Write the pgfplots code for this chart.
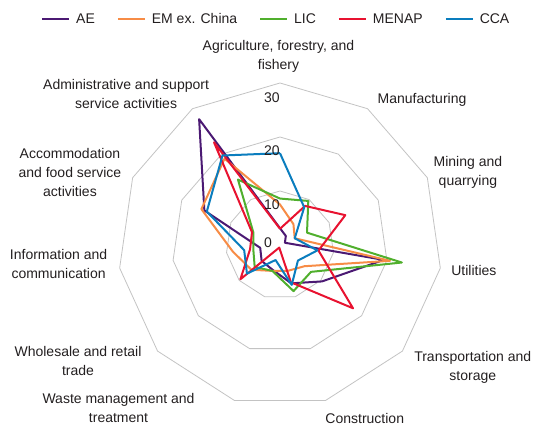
\documentclass[border=0pt]{standalone}
\usepackage{fontspec}
\setmainfont{Liberation Sans}
\usepackage{pgfplots}
\usepackage{pgfplotstable}
\pgfplotsset{compat=1.18}
\usepgfplotslibrary{polar}
\definecolor{ae}{RGB}{75,25,115}
\definecolor{em}{RGB}{247,140,70}
\definecolor{lic}{RGB}{80,175,45}
\definecolor{menap}{RGB}{232,18,48}
\definecolor{cca}{RGB}{10,125,190}
\definecolor{gridc}{RGB}{195,195,195}
\definecolor{txt}{RGB}{35,31,32}

% angle = category direction (11 categories, clockwise from top), values per region
\pgfplotstableread{
angle      ae    em    lic   menap  cca
90         3.1   7.5   8.6   3.0    17.0
57.2727    2.0   4.6   9.7   8.6    8.3
24.5455    1.0   3.0   5.5   13.3   3.0
-8.1818    19.4  20.6  22.8  7.2    7.0
-40.9091   10.3  6.0   7.6   17.9   4.4
-73.6364   7.4   5.0   8.9   7.2    7.7
-106.3636  4.8   5.0   5.0   0.5    2.9
-139.0909  4.5   7.0   6.2   9.7    8.1
-171.8182  3.7   8.8   5.0   5.6    6.7
155.4545   15.4  16.0  5.4   5.7    14.9
122.7273   27.7  19.0  14.4  22.6   19.7
90         3.1   7.5   8.6   3.0    17.0
}\radardata

\begin{document}
\begin{tikzpicture}[font=\fontsize{14}{19}\selectfont, text=txt]
\begin{axis}[
  hide axis,
  x=5.4pt, y=5.4pt,
  xmin=-51.85, xmax=47.04, ymin=-34.44, ymax=45.37,
  clip=false,
  legend columns=5,
  legend style={at={(axis cs:-44.26,41.85)}, anchor=west, draw=none, fill=none,
    font=\fontsize{14}{17}\selectfont, text=txt,
    inner sep=0pt, column sep=0pt,
    nodes={inner sep=0pt, anchor=west},
    /tikz/every even column/.append style={column sep=22pt}},
  legend image code/.code={\draw[#1, line width=2pt] (0pt,0pt) -- (27pt,0pt); \path (33pt,0pt);},
  every axis plot/.append style={line width=2pt, line join=round},
]
% polygonal grid rings
\addplot[forget plot, data cs=polar, gridc, line width=0.8pt] coordinates {(90,10) (57.2727,10) (24.5455,10) (-8.1818,10) (-40.9091,10) (-73.6364,10) (-106.3636,10) (-139.0909,10) (-171.8182,10) (155.4545,10) (122.7273,10) (90,10)};
\addplot[forget plot, data cs=polar, gridc, line width=0.8pt] coordinates {(90,20) (57.2727,20) (24.5455,20) (-8.1818,20) (-40.9091,20) (-73.6364,20) (-106.3636,20) (-139.0909,20) (-171.8182,20) (155.4545,20) (122.7273,20) (90,20)};
\addplot[forget plot, data cs=polar, gridc, line width=0.8pt] coordinates {(90,30) (57.2727,30) (24.5455,30) (-8.1818,30) (-40.9091,30) (-73.6364,30) (-106.3636,30) (-139.0909,30) (-171.8182,30) (155.4545,30) (122.7273,30) (90,30)};

\addplot[ae, data cs=polar] table[x=angle, y=ae] {\radardata};
\addlegendentry{AE}
\addplot[em, data cs=polar] table[x=angle, y=em] {\radardata};
\addlegendentry{EM ex. China}
\addplot[lic, data cs=polar] table[x=angle, y=lic] {\radardata};
\addlegendentry{LIC}
\addplot[menap, data cs=polar] table[x=angle, y=menap] {\radardata};
\addlegendentry{MENAP}
\addplot[cca, data cs=polar] table[x=angle, y=cca] {\radardata};
\addlegendentry{CCA}

% radial tick labels
\node at (axis cs:-1.48,27.2) {30};
\node at (axis cs:-1.48,17.4) {20};
\node at (axis cs:-1.48,7.4) {10};
\node at (axis cs:-2.2,0.46) {0};

% category labels
\node[align=center] at (axis cs:-0.28,34.9) {Agriculture, forestry, and\\fishery};
\node[align=center] at (axis cs:26.3,26.85) {Manufacturing};
\node[align=center] at (axis cs:34.8,13.5) {Mining and\\quarrying};
\node[align=center] at (axis cs:35.9,-4.63) {Utilities};
\node[align=center] at (axis cs:35.7,-22.7) {Transportation and\\storage};
\node[align=center] at (axis cs:15.7,-32.2) {Construction};
\node[align=center] at (axis cs:-29.9,-30.2) {Waste management and\\treatment};
\node[align=center] at (axis cs:-37.4,-21.4) {Wholesale and retail\\trade};
\node[align=center] at (axis cs:-41.0,-3.5) {Information and\\communication};
\node[align=center] at (axis cs:-38.9,13.4) {Accommodation\\and food service\\activities};
\node[align=center] at (axis cs:-28.5,28.0) {Administrative and support\\service activities};

\coordinate (bl) at (axis cs:-51.85,-34.44);
\coordinate (tr) at (axis cs:47.04,45.37);
\end{axis}
\pgfresetboundingbox
\path (bl) rectangle (tr);
\end{tikzpicture}
\end{document}
